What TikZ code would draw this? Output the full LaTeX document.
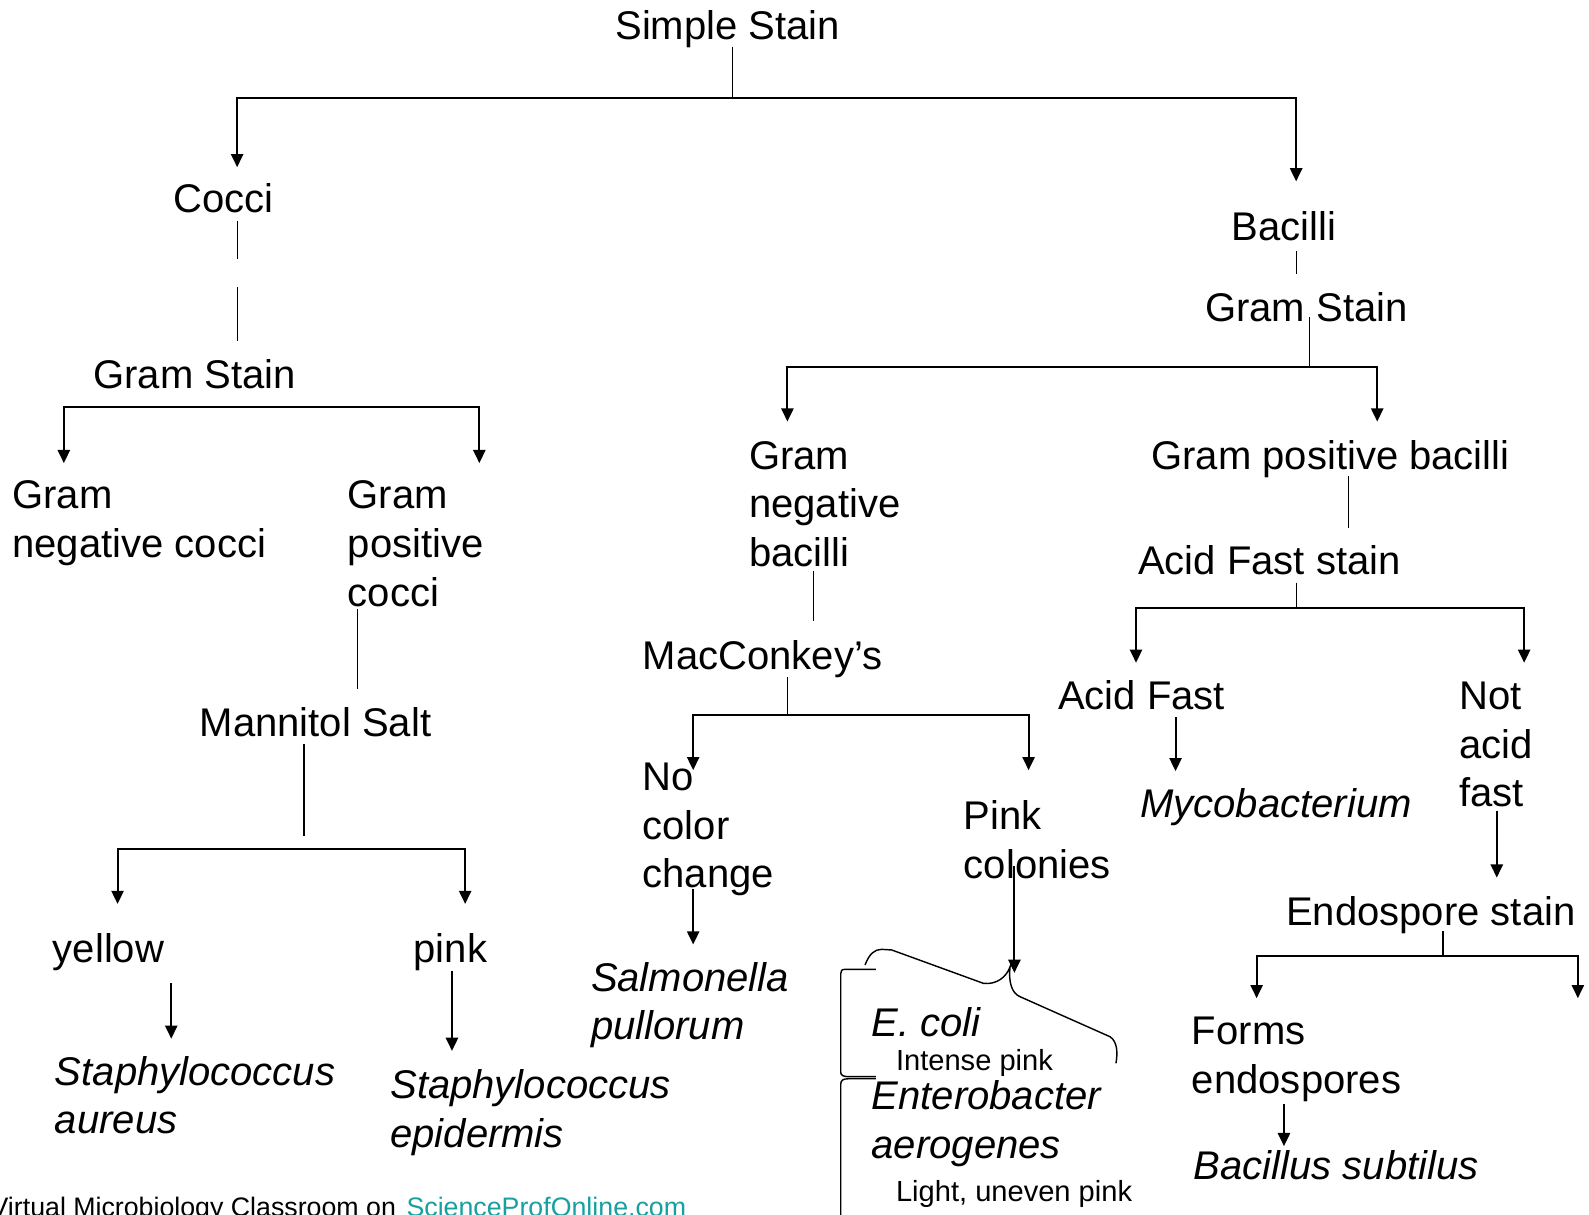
\documentclass[tikz,border=0pt]{standalone}
\usepackage{fontspec}
\setmainfont{Liberation Sans}
\usetikzlibrary{arrows.meta}
\definecolor{linkteal}{RGB}{24,160,160}
\newcommand\mlines[1]{\begin{tabular}[t]{@{}l@{}}#1\end{tabular}}
\begin{document}
\begin{tikzpicture}[x=1pt,y=-1pt,
  lbl/.style={inner sep=0pt, anchor=base west, font=\fontsize{39.5}{48}\selectfont},
  sp/.style={inner sep=0pt, anchor=base west, font=\fontsize{39.5}{48}\selectfont\itshape},
  small/.style={inner sep=0pt, anchor=base west, font=\fontsize{28.7}{34}\selectfont},
  foot/.style={inner sep=0pt, font=\fontsize{26.4}{30}\selectfont},
  thinln/.style={line width=1.2pt},
  bar/.style={line width=2pt},
  arr/.style={line width=2pt, -{Triangle[width=12pt,length=13pt]}},
  darr/.style={line width=2pt, {Triangle[width=12pt,length=13pt]}-{Triangle[width=12pt,length=13pt]}},
  brace/.style={line width=1.4pt},
]
\useasboundingbox (0,0) rectangle (1568,1198);
\clip (0,0) rectangle (1568,1198);
\fill[white] (0,0) rectangle (1568,1198);

% ---------- text nodes ----------
\node[lbl] (simple) at (607,39) {Simple Stain};
\node[lbl] (cocci) at (171,210) {Cocci};
\node[lbl] (bacilli) at (1215,237) {Bacilli};
\node[lbl] (gsR) at (1189,317) {Gram Stain};
\node[lbl] (gsL) at (92,383) {Gram Stain};
\node[lbl] (gnc) at (12,502) {\mlines{Gram\\negative cocci}};
\node[lbl] (gpc) at (343,502) {\mlines{Gram\\positive\\cocci}};
\node[lbl] (gnb) at (739,463) {\mlines{Gram\\negative\\bacilli}};
\node[lbl] (gpb) at (1136,463) {Gram positive bacilli};
\node[lbl] (afs) at (1123,567) {Acid Fast stain};
\node[lbl] (mac) at (634,661) {MacConkey’s};
\node[lbl] (af) at (1044,700) {Acid Fast};
\node[lbl] (naf) at (1440,700) {\mlines{Not\\acid\\fast}};
\node[lbl] (mann) at (197,727) {Mannitol Salt};
\node[lbl] (ncc) at (634,780) {\mlines{No\\color\\change}};
\node[sp] (myco) at (1125,807) {Mycobacterium};
\node[lbl] (pinkc) at (951,819) {\mlines{Pink\\colonies}};
\node[lbl] (endo) at (1269,913) {Endospore stain};
\node[lbl] (yellow) at (52,950) {yellow};
\node[lbl] (pink) at (408,950) {pink};
\node[sp] (salm) at (583,978) {\mlines{Salmonella\\pullorum}};
\node[sp] (ecoli) at (860,1023) {E. coli};
\node[small] (intense) at (884,1056) {Intense pink};
\node[sp] (entero) at (860,1095) {\mlines{Enterobacter\\aerogenes}};
\node[small] (light) at (884,1186) {Light, uneven pink};
\node[lbl] (forms) at (1176,1031) {\mlines{Forms\\endospores}};
\node[sp] (bsub) at (1178,1164) {Bacillus subtilus};
\node[sp] (saur) at (54,1071) {\mlines{Staphylococcus\\aureus}};
\node[sp] (sepi) at (385,1084) {\mlines{Staphylococcus\\epidermis}};
\node[foot, anchor=base east] (f1) at (391,1200) {Virtual Microbiology Classroom on};
\node[foot, anchor=base west, text=linkteal] (f2) at (401,1200) {ScienceProfOnline.com};

% ---------- junction coordinates ----------
\coordinate (j0) at (723,97);
\coordinate (tCocci) at (234,165);
\coordinate (tBac) at (1279,179);
\coordinate (j1) at (1292,362);
\coordinate (tGnb) at (777,416);
\coordinate (tGpb) at (1359,416);
\coordinate (j2) at (1279,600);
\coordinate (tAf) at (1121,654);
\coordinate (tNaf) at (1504,654);
\coordinate (j3) at (777,706);
\coordinate (tNcc) at (684,760);
\coordinate (tPink) at (1015,760);
\coordinate (j4) at (1424,943);
\coordinate (tForms) at (1240,985);
\coordinate (tNone) at (1557,985);

% ---------- connectors ----------
% Simple stain
\draw[thinln] (723,46) -- (j0);
\draw[arr] (j0) -| (tCocci);
\draw[arr] (j0) -| (tBac);
% Cocci branch
\draw[thinln] (234,218) -- (234,256);
\draw[thinln] (234,283) -- (234,336);
\draw[darr] (63,457) -- (63,402) -- (473,402) -- (473,457);
\draw[thinln] (353,601) -- (353,680);
\draw[thinln] (300,734) -- (300,825);
\draw[darr] (116,892) -- (116,838) -- (459,838) -- (459,892);
\draw[arr] (169,970) -- (169,1025);
\draw[arr] (446,958) -- (446,1037);
% Bacilli branch
\draw[thinln] (1279,248) -- (1279,270);
\draw[thinln] (1292,313) -- (j1);
\draw[arr] (j1) -| (tGnb);
\draw[arr] (j1) -| (tGpb);
\draw[thinln] (803,563) -- (803,613);
\draw[thinln] (777,668) -- (j3);
\draw[arr] (j3) -| (tNcc);
\draw[arr] (j3) -| (tPink);
\draw[arr] (684,877) -- (684,932);
\draw[arr] (1001,855) -- (1001,960);
\draw[thinln] (1331,470) -- (1331,521);
\draw[thinln] (1279,575) -- (j2);
\draw[arr] (j2) -| (tAf);
\draw[arr] (j2) -| (tNaf);
\draw[arr] (1160,708) -- (1160,761);
\draw[arr] (1477,800) -- (1477,866);
\draw[thinln] (1424,919) -- (j4);
\draw[arr] (j4) -| (tForms);
\draw[arr] (j4) -| (tNone);
\draw[arr] (1267,1089) -- (1267,1131);

% ---------- braces ----------
\draw[brace] (853.6,952.2) .. controls (858,941) and (863,936.8) .. (870,936.8)
  -- (879.9,937.4) -- (970.3,970.3)
  .. controls (983.5,972) and (993.4,963.8) .. (996.7,953.9)
  .. controls (995,968.7) and (998.3,980.2) .. (1006.5,983.5)
  -- (1095.3,1023)
  .. controls (1102.9,1028) and (1102.9,1039.4) .. (1101.2,1049.3);
\draw[brace] (864.4,956.5) -- (834,956.5) .. controls (830.5,956.5) and (829.6,958) .. (829.6,961)
  -- (829.6,1058) .. controls (829.6,1061) and (832,1062.4) .. (837,1062.4) -- (864.4,1062.4);
\draw[brace] (864.4,1064.5) -- (837,1064.5) .. controls (832,1064.5) and (829.6,1066) .. (829.6,1070)
  -- (829.6,1200);
\end{tikzpicture}
\end{document}
